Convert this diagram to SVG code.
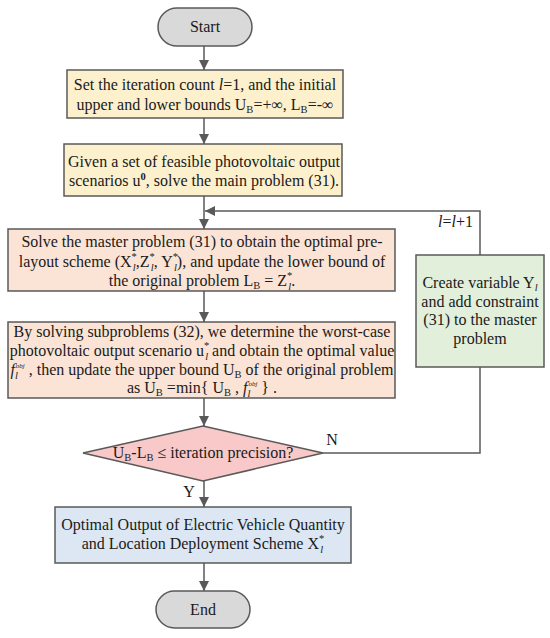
<svg xmlns="http://www.w3.org/2000/svg" width="550" height="638" viewBox="0 0 550 638">
<style>
.t{font-family:"Liberation Serif","Times New Roman",serif;font-size:16px;fill:#1a1a1a;text-anchor:middle}
.s{font-size:10.5px}
.i{font-style:italic}
.box{stroke:#595959;stroke-width:1.5}
.y{fill:#fdf0cd}
.p{fill:#fbe4d5}
.g{fill:#e2efda}
.b{fill:#dce7f3}
.r{fill:#f8c9c8}
.gr{fill:#d9d9d9}
.c{fill:none;stroke:#595959;stroke-width:1.5}
</style>
<defs>
<marker id="ah" markerUnits="userSpaceOnUse" markerWidth="10" markerHeight="10" refX="10" refY="5" orient="auto">
<path d="M0,0 L10,5 L0,10 z" fill="#595959"/>
</marker>
</defs>
<g id="connectors">
<line class="c" x1="204" y1="46" x2="204" y2="70" marker-end="url(#ah)"/>
<line class="c" x1="204" y1="118" x2="204" y2="144" marker-end="url(#ah)"/>
<line class="c" x1="204" y1="196" x2="204" y2="229" marker-end="url(#ah)"/>
<polyline class="c" points="480,255 480,211 205,211" marker-end="url(#ah)"/>
<line class="c" x1="204" y1="291" x2="204" y2="322" marker-end="url(#ah)"/>
<line class="c" x1="204" y1="398" x2="204" y2="426" marker-end="url(#ah)"/>
<polyline class="c" points="323,453 480,453 480,367"/>
<line class="c" x1="204" y1="481" x2="204" y2="507" marker-end="url(#ah)"/>
<line class="c" x1="204" y1="563" x2="204" y2="591" marker-end="url(#ah)"/>
<text class="t" x="473" y="227" style="text-anchor:end"><tspan class="i">l</tspan>=<tspan class="i">l</tspan>+1</text>
<text class="t" x="332" y="445">N</text>
<text class="t" x="189" y="497">Y</text>
</g>
<g id="start">
<rect class="box gr" x="158" y="8" width="94" height="38" rx="19"/>
<text class="t" x="205" y="32">Start</text>
</g>
<g id="init">
<rect class="box y" x="67" y="70" width="276" height="48"/>
<text class="t" x="205" y="90">Set the iteration count <tspan class="i">l</tspan>=1, and the initial</text>
<text class="t" x="205" y="110">upper and lower bounds U<tspan class="s" dy="3">B</tspan><tspan dy="-3">=+∞, L</tspan><tspan class="s" dy="3">B</tspan><tspan dy="-3">=-∞</tspan></text>
</g>
<g id="scenarios">
<rect class="box y" x="64" y="144" width="278" height="52"/>
<text class="t" x="204" y="167">Given a set of feasible photovoltaic output</text>
<text class="t" x="204" y="186">scenarios u<tspan class="s" dy="-6" font-weight="bold">0</tspan><tspan dy="6">, solve the main problem (31).</tspan></text>
</g>
<g id="master">
<rect class="box p" x="8" y="229" width="387" height="62"/>
<text class="t" x="202" y="247">Solve the master problem (31) to obtain the optimal pre-</text>
<text class="t" x="202" y="267">layout scheme (X<tspan class="s" dy="-7">*</tspan><tspan class="s i" dx="-4" dy="11">l</tspan><tspan dy="-4">,Z</tspan><tspan class="s" dy="-7">*</tspan><tspan class="s i" dx="-4" dy="11">l</tspan><tspan dy="-4">, Y</tspan><tspan class="s" dy="-7">*</tspan><tspan class="s i" dx="-4" dy="11">l</tspan><tspan dy="-4">), and update the lower bound of</tspan></text>
<text class="t" x="202" y="286">the original problem L<tspan class="s" dy="3">B</tspan><tspan dy="-3"> = Z</tspan><tspan class="s" dy="-7">*</tspan><tspan class="s i" dx="-4" dy="11">l</tspan><tspan dy="-4">.</tspan></text>
</g>
<g id="sub">
<rect class="box p" x="8" y="322" width="387" height="76"/>
<text class="t" x="202" y="337">By solving subproblems (32), we determine the worst-case</text>
<text class="t" x="202" y="356">photovoltaic output scenario u<tspan class="s" dy="-7">*</tspan><tspan class="s i" dx="-4" dy="11">l</tspan><tspan dy="-4"> and obtain the optimal value</tspan></text>
<text class="t" x="202" y="375"><tspan class="i">f</tspan><tspan class="s i" dy="4">l</tspan><tspan class="i" font-size="7" dx="-2" dy="-11">obj</tspan><tspan dy="7"> , then update the upper bound U</tspan><tspan class="s" dy="3">B</tspan><tspan dy="-3"> of the original problem</tspan></text>
<text class="t" x="202" y="393">as  U<tspan class="s" dy="3">B</tspan><tspan dy="-3"> =min{ U</tspan><tspan class="s" dy="3">B</tspan><tspan dy="-3"> , </tspan><tspan class="i">f</tspan><tspan class="s i" dy="4">l</tspan><tspan class="i" font-size="7" dx="-2" dy="-11">obj</tspan><tspan dy="7"> } .</tspan></text>
</g>
<g id="decision">
<polygon class="box r" points="203,426 323,453 203,481 83,453"/>
<text class="t" x="203" y="458">U<tspan class="s" dy="3">B</tspan><tspan dy="-3">-L</tspan><tspan class="s" dy="3">B</tspan><tspan dy="-3"> ≤ iteration precision?</tspan></text>
</g>
<g id="create">
<rect class="box g" x="416" y="255" width="128" height="112"/>
<text class="t" x="480" y="288">Create variable Y<tspan class="s i" dy="3">l</tspan></text>
<text class="t" x="480" y="307">and add constraint</text>
<text class="t" x="480" y="325">(31) to the master</text>
<text class="t" x="480" y="344">problem</text>
</g>
<g id="output">
<rect class="box b" x="55" y="507" width="296" height="56"/>
<text class="t" x="203" y="530">Optimal Output of Electric Vehicle Quantity</text>
<text class="t" x="203" y="549">and Location Deployment Scheme X<tspan class="s" dy="-7">*</tspan><tspan class="s i" dx="-4" dy="11">l</tspan></text>
</g>
<g id="end">
<rect class="box gr" x="156" y="591" width="94" height="37" rx="18.5"/>
<text class="t" x="203" y="615">End</text>
</g>
</svg>
